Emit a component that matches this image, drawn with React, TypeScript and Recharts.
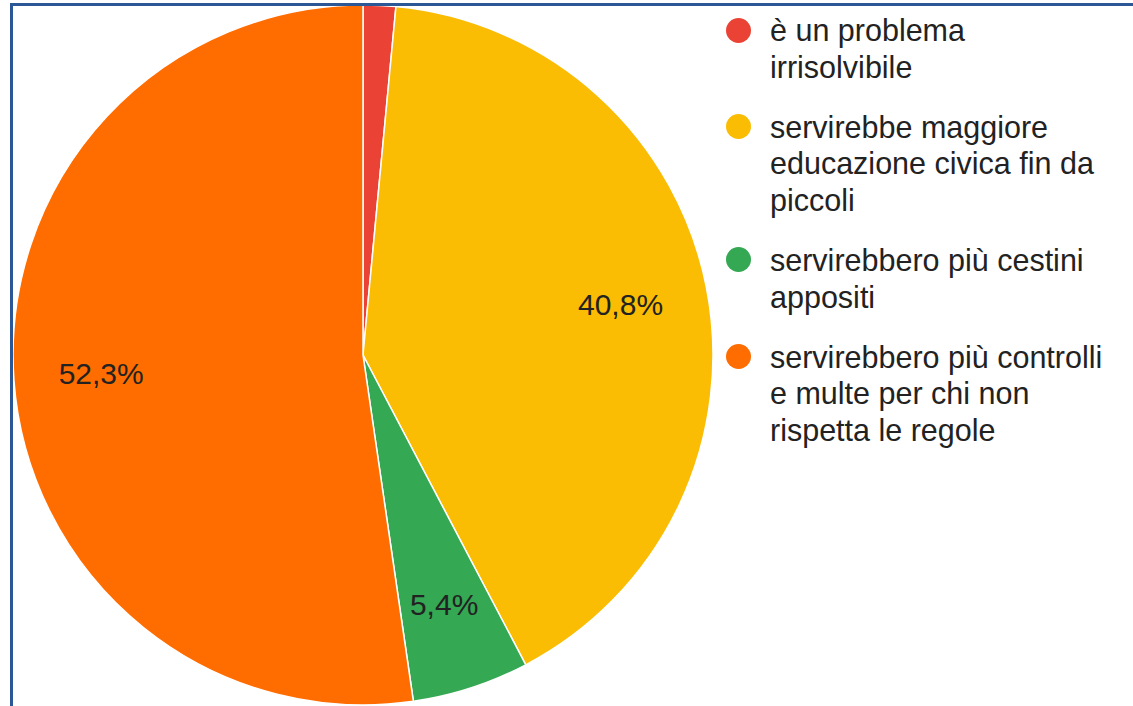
import React from 'react';
import { PieChart, Pie, Cell } from 'recharts';

const categories = [
  'è un problema irrisolvibile',
  'servirebbe maggiore educazione civica fin da piccoli',
  'servirebbero più cestini appositi',
  'servirebbero più controlli e multe per chi non rispetta le regole',
];
const shares = [1.5, 40.8, 5.4, 52.3];
const colors = ['#EA4335', '#FBBC04', '#34A853', '#FF6D01'];

const data = categories.map((name, i) => ({ name, value: shares[i] }));

const FONT = '"Liberation Sans", Arial, sans-serif';
const RAD = Math.PI / 180;

const renderLabel = (props: any) => {
  const { cx, cy, midAngle, outerRadius, percent } = props;
  if (percent < 0.03) return null;
  const r = outerRadius * 0.75;
  const x = cx + r * Math.cos(-midAngle * RAD);
  const y = cy + r * Math.sin(-midAngle * RAD);
  return (
    <text
      x={x}
      y={y}
      fill="#222"
      fontSize={30}
      fontFamily={FONT}
      textAnchor="middle"
      dominantBaseline="central"
    >
      {(percent * 100).toFixed(1).replace('.', ',')}%
    </text>
  );
};

export default function App() {
  return (
    <div style={{ position: 'absolute', left: 0, top: 0, width: 1133, height: 706, background: '#fff', overflow: 'hidden' }}>
      <PieChart width={1133} height={706} margin={{ top: 0, right: 0, bottom: 0, left: 0 }}>
        <Pie
          data={data}
          dataKey="value"
          nameKey="name"
          cx={363}
          cy={355}
          outerRadius={350}
          startAngle={90}
          endAngle={-270}
          stroke="#fff"
          strokeWidth={1.5}
          labelLine={false}
          label={renderLabel}
          isAnimationActive={false}
        >
          {data.map((d, i) => (
            <Cell key={d.name} fill={colors[i]} />
          ))}
        </Pie>
      </PieChart>

      <div style={{ position: 'absolute', left: 726, top: 12, fontFamily: FONT, fontSize: 30.5, lineHeight: '36.6px', color: '#222' }}>
        {categories.map((name, i) => (
          <div key={name} style={{ display: 'flex', alignItems: 'flex-start', marginBottom: 23.5 }}>
            <span
              style={{
                display: 'inline-block',
                width: 25,
                height: 25,
                borderRadius: '50%',
                background: colors[i],
                marginTop: 5.5,
                marginRight: 19,
                flexShrink: 0,
              }}
            />
            <span style={{ width: 338 }}>{name}</span>
          </div>
        ))}
      </div>

      <div style={{ position: 'absolute', left: 10, top: 3, width: 1123, height: 3, background: '#2B5797' }} />
      <div style={{ position: 'absolute', left: 10, top: 3, width: 3, height: 703, background: '#2B5797' }} />
    </div>
  );
}
